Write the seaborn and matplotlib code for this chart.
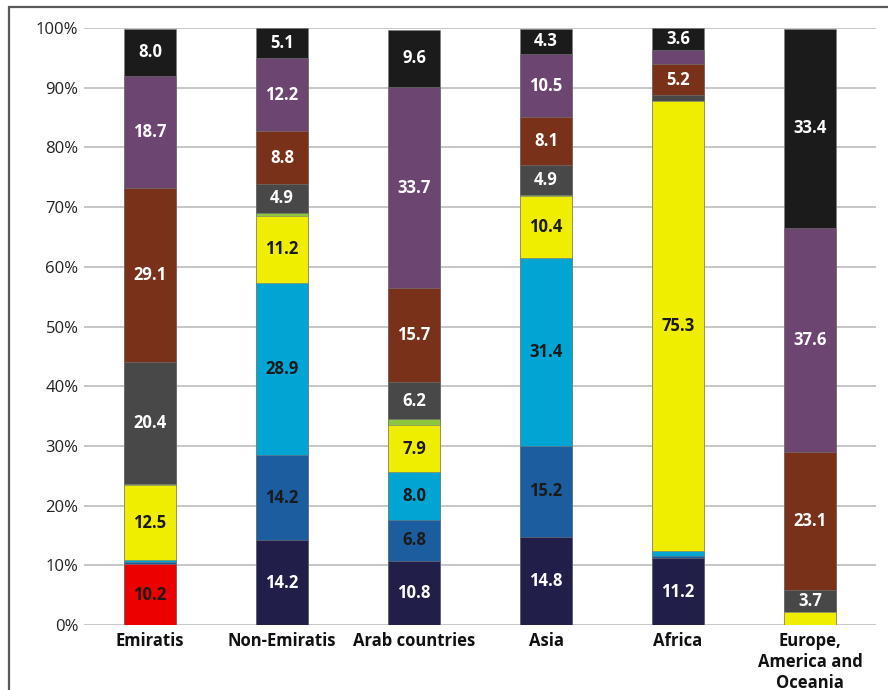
import matplotlib
matplotlib.use("Agg")
import matplotlib.pyplot as plt
import seaborn as sns
import numpy as np
import pandas as pd
from matplotlib.patches import Rectangle

groups = ["Emiratis", "Non-Emiratis", "Arab countries", "Asia", "Africa",
          "Europe,\nAmerica and\nOceania"]

red    = [10.2, 0.0, 0.0, 0.0, 0.0, 0.0]
navy   = [0.0, 14.2, 10.8, 14.8, 11.2, 0.0]
blue   = [0.3, 14.2, 6.8, 15.2, 0.4, 0.0]
cyan   = [0.4, 28.9, 8.0, 31.4, 0.8, 0.0]
yellow = [12.5, 11.2, 7.9, 10.4, 75.3, 2.1]
green  = [0.3, 0.5, 1.0, 0.3, 0.0, 0.0]
gray   = [20.4, 4.9, 6.2, 4.9, 1.0, 3.7]
brown  = [29.1, 8.8, 15.7, 8.1, 5.2, 23.1]
purple = [18.7, 12.2, 33.7, 10.5, 2.5, 37.6]
black  = [8.0, 5.1, 9.6, 4.3, 3.6, 33.4]

series = [red, navy, blue, cyan, yellow, green, gray, brown, purple, black]
colors = ["#ec0000", "#211f4a", "#1b5d9e", "#00a5d4", "#f0ee00",
          "#8cc63f", "#484848", "#7a3119", "#6c4671", "#1b1b1b"]
text_colors = ["#1a1a1a", "white", "#1a1a1a", "#1a1a1a", "#1a1a1a",
               "#1a1a1a", "white", "white", "white", "white"]

sns.set_theme(style="white")
plt.rcParams["font.family"] = ["Open Sans", "DejaVu Sans"]

fig = plt.figure(figsize=(8.88, 6.90), dpi=100)
ax = fig.add_axes([0.0946, 0.0942, 0.892, 0.8652])

vals = np.array(series)
cum = np.cumsum(vals, axis=0)

# draw cumulative bars from top series down so each lower one overlays
for i in range(len(series) - 1, -1, -1):
    df = pd.DataFrame({"group": groups, "value": cum[i]})
    sns.barplot(data=df, x="group", y="value", order=groups, color=colors[i],
                width=0.39, saturation=1, edgecolor="#7a7a7a", linewidth=0.4,
                ax=ax, zorder=3)

for i, s in enumerate(series):
    for j, v in enumerate(s):
        if v >= 3:
            ax.text(j, cum[i][j] - v / 2, f"{v:.1f}", ha="center", va="center",
                    fontsize=12, fontweight="bold", color=text_colors[i],
                    zorder=5)

ax.set_ylim(0, 100)
ax.set_xlim(-0.5, 5.5)
ax.set_yticks(np.arange(0, 101, 10))
ax.set_yticklabels([f"{t}%" for t in range(0, 101, 10)], fontsize=12, color="#222222")
ax.set_xticks(range(len(groups)))
ax.set_xticklabels(groups, fontsize=12, fontweight="bold", color="#111111",
                   linespacing=1.2)
ax.tick_params(axis="y", length=0, pad=4)
ax.tick_params(axis="x", length=0, pad=5)
ax.set_xlabel("")
ax.set_ylabel("")
ax.yaxis.grid(True, color="#bdbdbd", linewidth=1.2, zorder=0)
ax.set_axisbelow(True)
for sp in ax.spines.values():
    sp.set_visible(False)

fig.patches.append(Rectangle((9 / 888, -0.05), 1.2, 1.05 - 7 / 690,
                             transform=fig.transFigure, fill=False,
                             edgecolor="#5a5a5a", linewidth=1.6, zorder=0))

fig.savefig("out.png", dpi=100)
